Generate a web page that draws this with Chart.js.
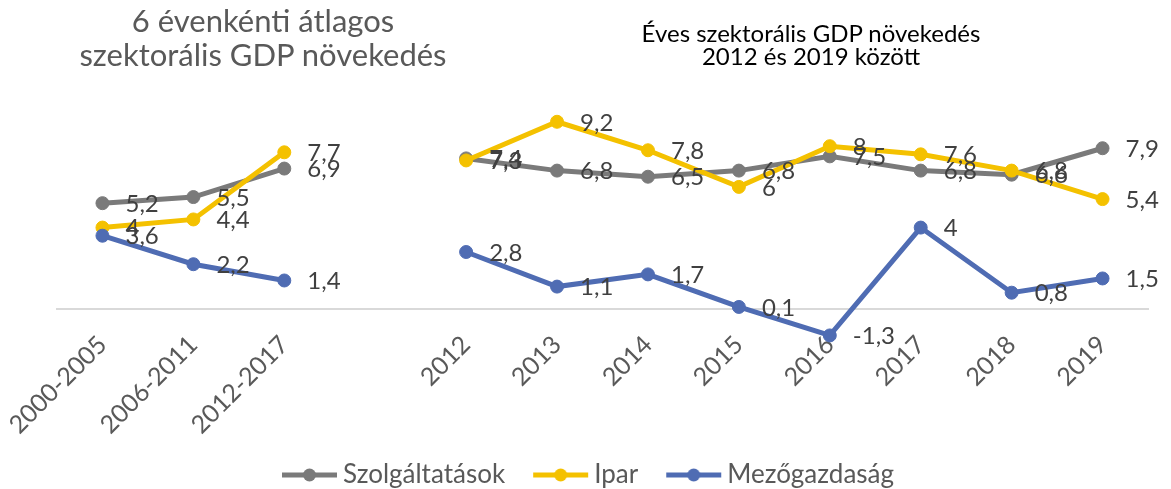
<!DOCTYPE html>
<html>
<head>
<meta charset="utf-8">
<script src="https://cdn.jsdelivr.net/npm/chart.js@4.4.1/dist/chart.umd.min.js"></script>
<style>
  html, body { margin: 0; padding: 0; background: #fff; }
  #wrap { position: relative; width: 1171px; height: 489px; }
  .title { position: absolute; text-align: center; font-family: Lato, sans-serif; white-space: nowrap; }
  #title-left { left: 63px; width: 400px; top: 3px; font-size: 31px; line-height: 34px; color: #595959; }
  #title-right { left: 611px; width: 400px; top: 21px; font-size: 24px; line-height: 23px; color: #000; }
</style>
</head>
<body>
<div id="wrap">
  <canvas id="chart" width="1171" height="489"></canvas>
  <div class="title" id="title-left">6 évenkénti átlagos<br>szektorális GDP növekedés</div>
  <div class="title" id="title-right">Éves szektorális GDP növekedés<br>2012 és 2019 között</div>
</div>
<script>
// 3 six-year averages, an empty slot, then the yearly values
const categories = ['2000-2005', '2006-2011', '2012-2017', '', '2012', '2013', '2014', '2015', '2016', '2017', '2018', '2019'];
const szolgaltatasok = [5.2, 5.5, 6.9, null, 7.4, 6.8, 6.5, 6.8, 7.5, 6.8, 6.6, 7.9];
const ipar = [4, 4.4, 7.7, null, 7.3, 9.2, 7.8, 6, 8, 7.6, 6.8, 5.4];
const mezogazdasag = [3.6, 2.2, 1.4, null, 2.8, 1.1, 1.7, 0.1, -1.3, 4, 0.8, 1.5];

const seriesNames = ['Szolgáltatások', 'Ipar', 'Mezőgazdaság'];
const seriesColors = ['#7a7a7a', '#f4c100', '#4f6cb3'];

Chart.defaults.font.family = 'Lato, sans-serif';

// legend symbol: line with a dot, shifted right so it sits close to the text
function legendSymbol(color) {
    const c = document.createElement('canvas');
    c.width = 92;
    c.height = 16;
    const g = c.getContext('2d');
    g.strokeStyle = color;
    g.lineWidth = 5;
    g.beginPath();
    g.moveTo(c.width - 56, 8);
    g.lineTo(c.width - 1, 8);
    g.stroke();
    g.fillStyle = color;
    g.beginPath();
    g.arc(c.width - 28.5, 8, 6.5, 0, Math.PI * 2);
    g.fill();
    return c;
}

const dataLabels = {
    id: 'dataLabels',
    afterDatasetsDraw(chart) {
        const ctx = chart.ctx;
        ctx.save();
        ctx.font = '24px Lato';
        ctx.fillStyle = '#404040';
        ctx.textAlign = 'left';
        ctx.textBaseline = 'middle';
        chart.data.datasets.forEach(function(ds, i) {
            const meta = chart.getDatasetMeta(i);
            meta.data.forEach(function(pt, j) {
                const v = ds.data[j];
                if (v === null) return;
                ctx.fillText(String(v).replace('.', ','), pt.x + 23, pt.y + 1);
            });
        });
        ctx.restore();
    }
};

const allSeries = [szolgaltatasok, ipar, mezogazdasag];

new Chart(document.getElementById('chart'), {
    type: 'line',
    data: {
        labels: categories,
        datasets: allSeries.map(function(values, i) {
            return {
                label: seriesNames[i],
                data: values,
                borderColor: seriesColors[i],
                backgroundColor: seriesColors[i],
                pointBackgroundColor: seriesColors[i],
                pointBorderColor: seriesColors[i],
                borderWidth: 5,
                pointRadius: 6.5,
                pointBorderWidth: 1,
                tension: 0,
                spanGaps: false,
                order: 3 - i
            };
        })
    },
    options: {
        responsive: false,
        animation: false,
        layout: { padding: { top: 100, right: 23, left: 0, bottom: 0 } },
        scales: {
            x: {
                position: { y: 0 },
                offset: true,
                grid: { display: false, drawTicks: false },
                border: { display: true, color: '#d9d9d9', width: 2 },
                ticks: {
                    color: '#595959',
                    font: { size: 25 },
                    minRotation: 45,
                    maxRotation: 45,
                    autoSkip: false,
                    padding: 21
                },
                afterFit: function(s) {
                    s.height = 0;
                    s.paddingLeft = 0;
                    s.paddingRight = 0;
                }
            },
            y: {
                min: -7.52,
                max: 10.27,
                grid: { display: false, drawTicks: false },
                border: { display: false },
                ticks: { display: false },
                afterFit: function(s) { s.width = 57; }
            }
        },
        plugins: {
            tooltip: { enabled: false },
            legend: {
                position: 'bottom',
                maxHeight: 27,
                labels: {
                    usePointStyle: true,
                    pointStyleWidth: 76,
                    padding: 0,
                    color: '#595959',
                    font: { size: 26 },
                    generateLabels: function(chart) {
                        return chart.data.datasets.map(function(ds, i) {
                            return {
                                text: ds.label,
                                fillStyle: ds.borderColor,
                                strokeStyle: ds.borderColor,
                                fontColor: '#595959',
                                lineWidth: 0,
                                pointStyle: legendSymbol(ds.borderColor),
                                hidden: !chart.isDatasetVisible(i),
                                datasetIndex: i
                            };
                        });
                    }
                }
            }
        }
    },
    plugins: [dataLabels]
});
</script>
</body>
</html>
